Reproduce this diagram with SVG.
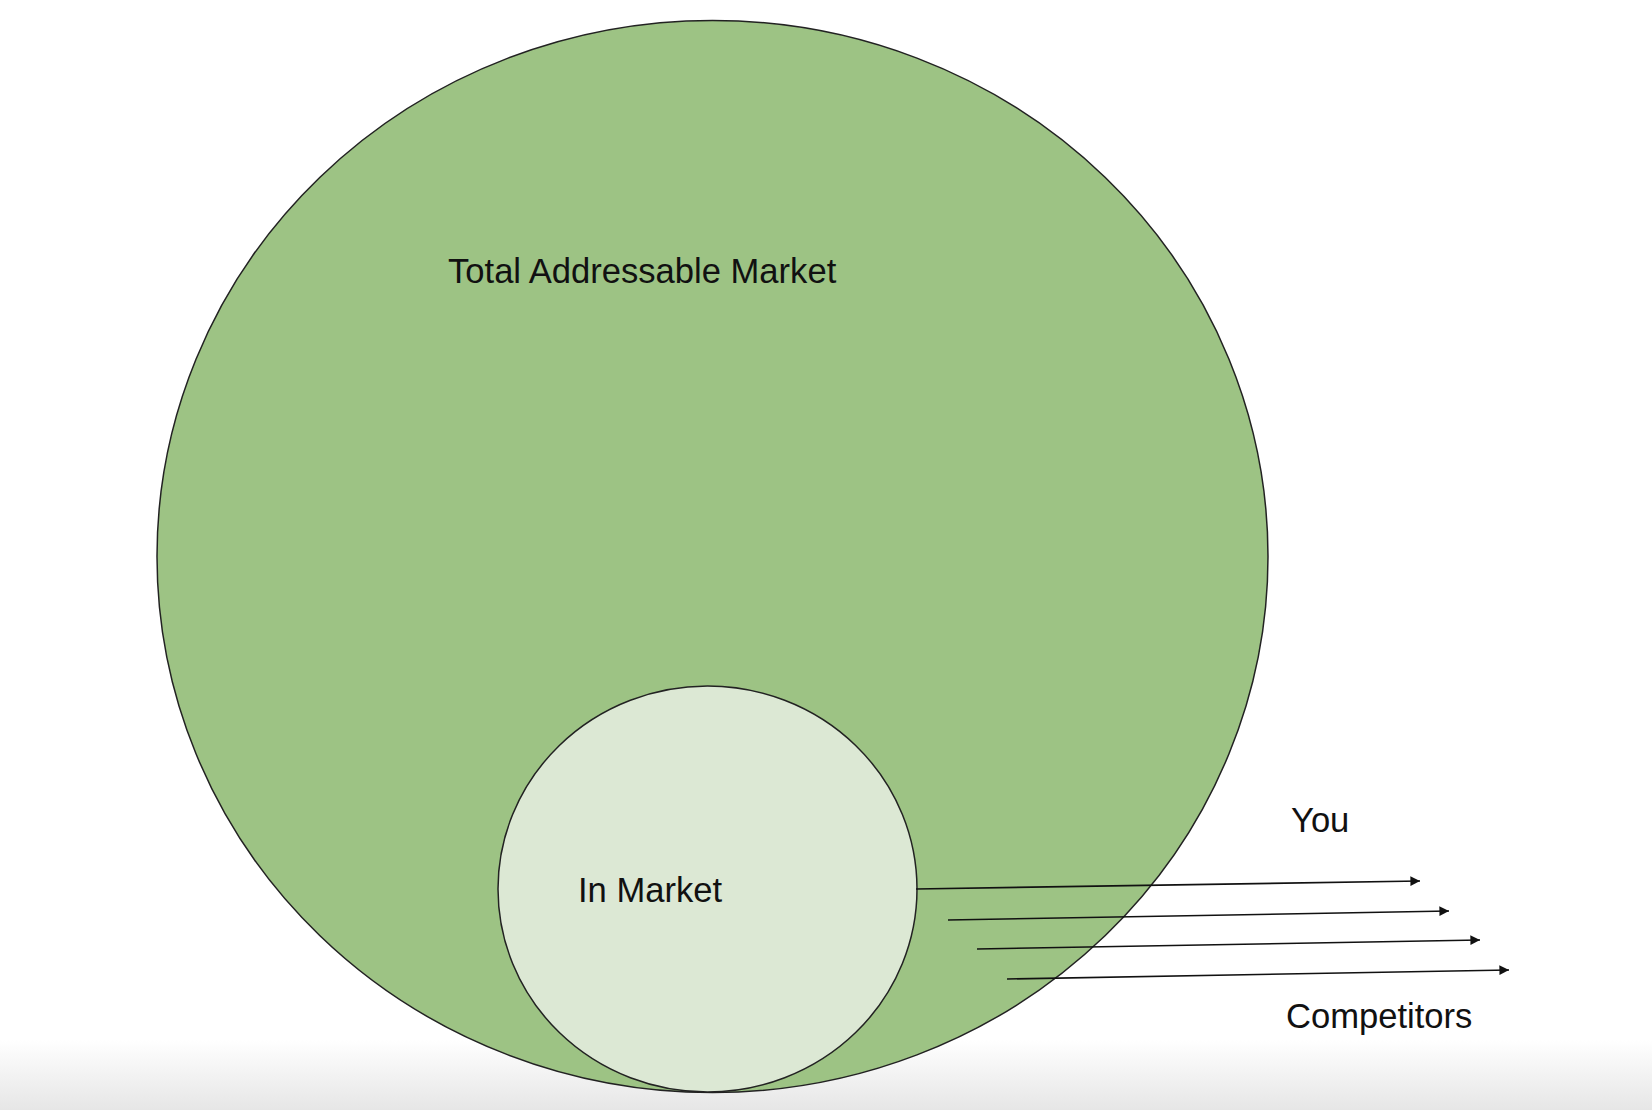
<svg xmlns="http://www.w3.org/2000/svg" width="1652" height="1110" viewBox="0 0 1652 1110">
  <style>
    .lbl { font-family: "Liberation Sans", Arial, sans-serif; font-size: 34.6px; fill: #111; }
    .shape { stroke: #222; stroke-width: 1.5; }
    .conn { stroke: #111; stroke-width: 1.6; fill: none; marker-end: url(#arr); }
  </style>
  <defs>
    <marker id="arr" viewBox="0 0 10 10" refX="10" refY="5" markerWidth="7" markerHeight="6" orient="auto" markerUnits="strokeWidth">
      <path d="M0,0 L10,5 L0,10 z" fill="#111"/>
    </marker>
    <linearGradient id="shade" x1="0" y1="0" x2="0" y2="1">
      <stop offset="0" stop-color="#ffffff"/>
      <stop offset="1" stop-color="#e6e6e6"/>
    </linearGradient>
  </defs>
  <rect x="0" y="0" width="1652" height="1110" fill="#ffffff"/>
  <rect x="0" y="1040" width="1652" height="70" fill="url(#shade)"/>
  <g id="total-addressable-market">
    <ellipse class="shape" cx="712.5" cy="556.5" rx="555.5" ry="536" fill="#9dc384"/>
    <text class="lbl" x="448" y="283">Total Addressable Market</text>
  </g>
  <g id="in-market">
    <ellipse class="shape" cx="707.5" cy="889" rx="209.5" ry="203" fill="#dce8d4"/>
    <text class="lbl" x="578" y="902">In Market</text>
  </g>
  <g id="connectors">
    <line class="conn" x1="916" y1="889" x2="1420" y2="881"/>
    <line class="conn" x1="948" y1="920" x2="1449" y2="911"/>
    <line class="conn" x1="977" y1="949" x2="1480" y2="940"/>
    <line class="conn" x1="1007" y1="979" x2="1509" y2="970"/>
  </g>
  <g id="you">
    <text class="lbl" x="1291" y="832">You</text>
  </g>
  <g id="competitors">
    <text class="lbl" x="1286" y="1028">Competitors</text>
  </g>
</svg>
